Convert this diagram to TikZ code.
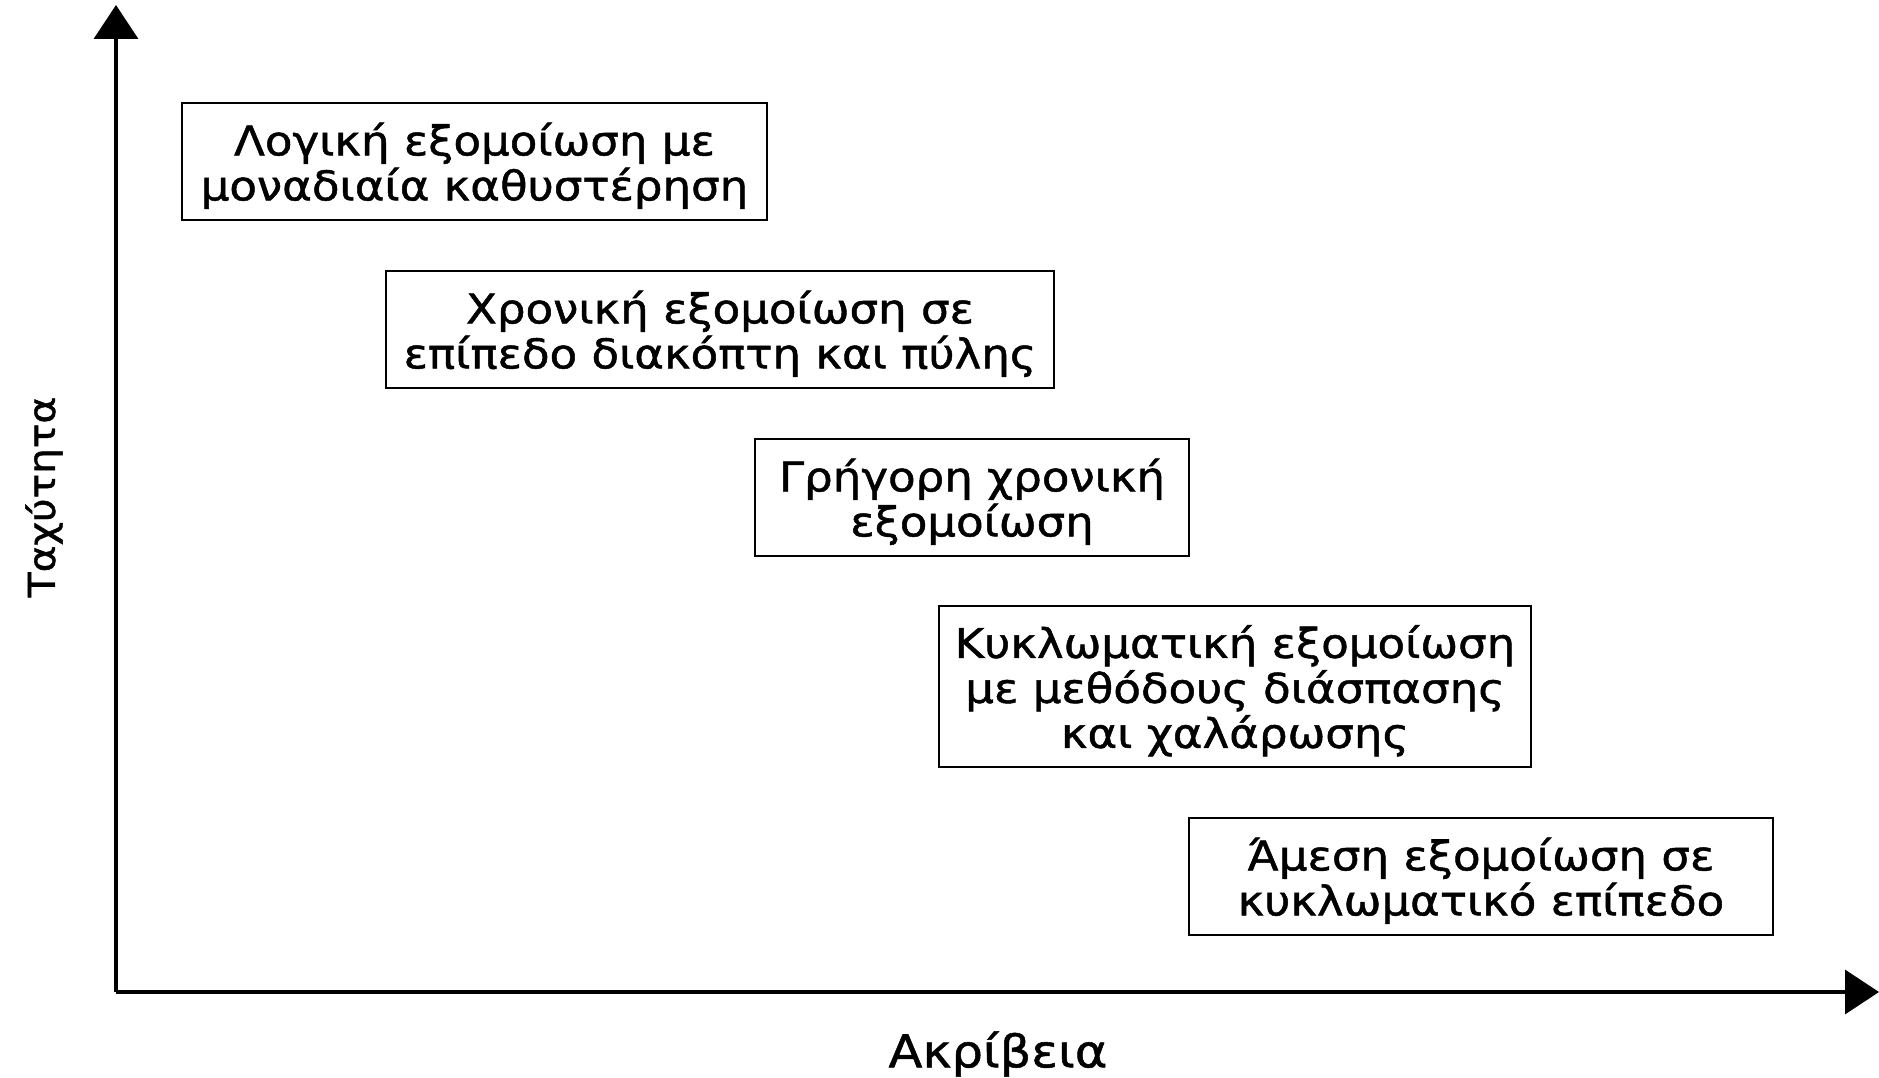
\documentclass[tikz,border=0pt]{standalone}
\usepackage{fontspec}
\setmainfont{DejaVu Sans}[FakeStretch=1.1, FakeBold=1.2]
\usetikzlibrary{arrows.meta}
\tikzset{
  box/.style={draw=black, line width=1.6pt, align=center, inner sep=0pt,
    text depth=0pt, font=\fontsize{41}{45}\selectfont},
  axis/.style={line width=3.5pt, -{Triangle[length=34pt,width=44pt]}},
  xaxlabel/.style={font=\fontsize{45}{50}\selectfont},
  yaxlabel/.style={font=\fontsize{37}{42}\selectfont, rotate=90}
}
\begin{document}
\begin{tikzpicture}[x=1pt,y=-1pt]
\useasboundingbox (0,0) rectangle (1879,1078);
\coordinate (o) at (116,992);
\coordinate (ytop) at (116,5);
\coordinate (xend) at (1879,992);
\draw[axis] (o) -- (ytop);
\draw[axis] (o) -- (xend);
\node[box, minimum width=585pt, minimum height=117pt] (b1) at (474.5,161.5)
  {Λογική εξομοίωση με\\μοναδιαία καθυστέρηση};
\node[box, minimum width=668pt, minimum height=117pt] (b2) at (720,329.5)
  {Χρονική εξομοίωση σε\\επίπεδο διακόπτη και πύλης};
\node[box, minimum width=434pt, minimum height=117pt] (b3) at (972,497.5)
  {Γρήγορη χρονική\\εξομοίωση};
\node[box, minimum width=592pt, minimum height=161pt] (b4) at (1235,686.5)
  {Κυκλωματική εξομοίωση\\με μεθόδους διάσπασης\\και χαλάρωσης};
\node[box, minimum width=584pt, minimum height=117pt] (b5) at (1481,876.5)
  {Άμεση εξομοίωση σε\\κυκλωματικό επίπεδο};
\node[yaxlabel] (ylab) at (44,497) {Ταχύτητα};
\node[xaxlabel] (xlab) at (998,1054) {Ακρίβεια};
\end{tikzpicture}
\end{document}
